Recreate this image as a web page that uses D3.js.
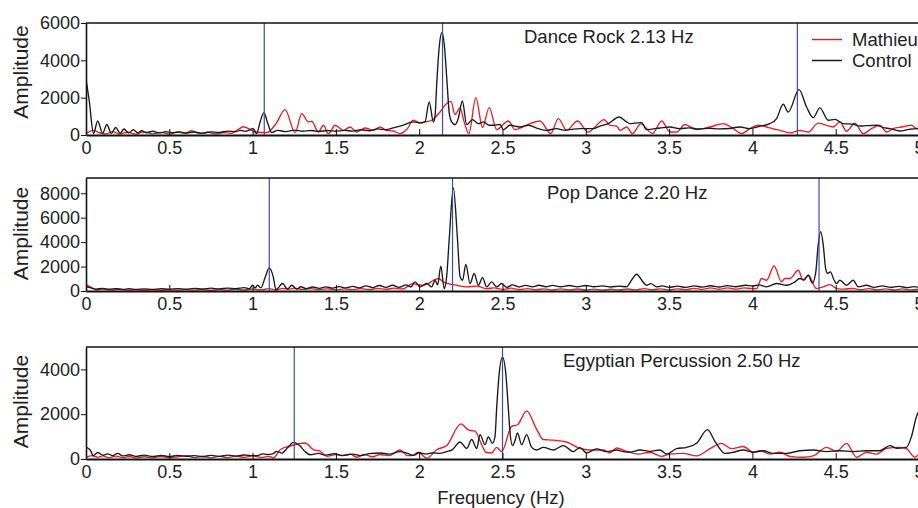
<!DOCTYPE html>
<html>
<head>
<meta charset="utf-8">
<script src="https://cdn.jsdelivr.net/npm/d3@7"></script>
<style>
  html, body { margin: 0; padding: 0; background: #fff; }
  svg { display: block; font-family: "Liberation Sans", Arial, Helvetica, sans-serif; }
  text { fill: #222; }
</style>
</head>
<body>
<svg id="chart" width="918" height="508"></svg>
<script>
// ---------------- DATA ----------------
const xTicks = [0, 0.5, 1, 1.5, 2, 2.5, 3, 3.5, 4, 4.5, 5];
const xTickLabels = ["0", "0.5", "1", "1.5", "2", "2.5", "3", "3.5", "4", "4.5", "5"];
const seriesNames = ["Mathieu", "Control"];
const panelTitles = ["Dance Rock 2.13 Hz", "Pop Dance 2.20 Hz", "Egyptian Percussion 2.50 Hz"];
const yMax = [6000, 9250, 5000];
const yTicks1 = [0, 2000, 4000, 6000];
const yTicks2 = [0, 2000, 4000, 6000, 8000];
const yTicks3 = [0, 2000, 4000];
const markers1 = [1.07, 2.14, 4.27];
const markers2 = [1.10, 2.20, 4.40];
const markers3 = [1.25, 2.50, 5.00];

// Dance Rock – Control
const danceCtrl = [[0,3000],[0.02,1800],[0.045,80],[0.07,750],[0.1,100],[0.125,560],[0.152,90],[0.178,400],[0.205,100],[0.228,320],[0.255,110],[0.284,280],[0.31,120],[0.335,230],[0.36,120],[0.40,200],[0.44,110],[0.48,180],[0.52,120],[0.56,170],[0.60,110],[0.65,160],[0.70,100],[0.75,170],[0.80,140],[0.85,210],[0.90,180],[0.924,250],[0.96,200],[1.004,340],[1.024,75],[1.045,700],[1.068,1200],[1.09,650],[1.115,130],[1.15,250],[1.2,180],[1.25,260],[1.3,200],[1.35,240],[1.4,190],[1.45,240],[1.5,200],[1.55,250],[1.6,210],[1.65,280],[1.7,230],[1.75,330],[1.8,280],[1.85,400],[1.9,520],[1.965,700],[2.005,650],[2.035,720],[2.06,1770],[2.085,700],[2.095,1000],[2.105,2700],[2.12,4700],[2.137,5490],[2.152,4700],[2.168,2700],[2.18,1200],[2.195,700],[2.215,550],[2.235,900],[2.259,1820],[2.285,560],[2.32,825],[2.355,610],[2.385,700],[2.42,520],[2.445,520],[2.485,560],[2.505,290],[2.545,520],[2.605,430],[2.655,520],[2.715,340],[2.765,250],[2.825,340],[2.865,260],[2.905,290],[2.965,340],[3.045,340],[3.085,480],[3.135,610],[3.2,965],[3.245,700],[3.265,610],[3.295,640],[3.335,660],[3.365,290],[3.445,375],[3.505,430],[3.565,340],[3.62,380],[3.68,320],[3.74,360],[3.8,330],[3.86,350],[3.925,430],[3.985,340],[4.045,465],[4.105,610],[4.145,880],[4.185,1645],[4.215,1230],[4.28,2430],[4.325,1500],[4.365,930],[4.405,1450],[4.455,790],[4.495,840],[4.545,610],[4.605,575],[4.645,480],[4.685,500],[4.745,520],[4.785,400],[4.826,340],[4.886,215],[4.94,300],[4.985,340],[5.0,320]];
// Dance Rock – Mathieu
const danceMath = [[0,75],[0.044,250],[0.08,120],[0.12,60],[0.16,180],[0.2,60],[0.25,150],[0.3,50],[0.35,170],[0.4,60],[0.45,140],[0.5,50],[0.55,160],[0.6,80],[0.63,230],[0.68,80],[0.73,150],[0.78,60],[0.83,130],[0.87,90],[0.91,280],[0.945,440],[0.985,300],[1.014,160],[1.085,130],[1.14,600],[1.195,1360],[1.255,130],[1.295,1145],[1.335,700],[1.355,735],[1.395,160],[1.425,520],[1.455,75],[1.495,520],[1.545,250],[1.585,430],[1.625,160],[1.675,375],[1.725,250],[1.765,430],[1.805,250],[1.845,215],[1.885,75],[1.925,290],[1.965,790],[2.005,640],[2.035,700],[2.075,790],[2.125,1230],[2.16,1650],[2.19,1800],[2.215,1100],[2.245,1450],[2.27,700],[2.298,75],[2.34,2000],[2.38,400],[2.42,1470],[2.465,290],[2.535,750],[2.575,290],[2.655,575],[2.725,750],[2.79,75],[2.835,880],[2.885,250],[2.95,750],[3.015,160],[3.045,340],[3.11,825],[3.145,520],[3.185,480],[3.205,250],[3.245,430],[3.28,75],[3.33,600],[3.40,75],[3.455,750],[3.505,160],[3.545,160],[3.595,560],[3.665,290],[3.745,430],[3.825,610],[3.885,340],[3.935,75],[3.985,340],[4.035,520],[4.085,430],[4.125,330],[4.165,250],[4.225,115],[4.285,250],[4.335,160],[4.395,640],[4.445,520],[4.485,430],[4.525,700],[4.565,200],[4.615,640],[4.665,75],[4.715,340],[4.765,520],[4.805,160],[4.845,340],[4.895,430],[4.955,520],[4.985,340],[5.0,380]];

// Pop Dance – Control
const popCtrl = [[0,350],[0.03,250],[0.06,150],[0.1,220],[0.14,140],[0.18,200],[0.22,130],[0.26,190],[0.3,120],[0.35,180],[0.4,130],[0.45,190],[0.5,140],[0.55,200],[0.6,150],[0.65,210],[0.7,160],[0.75,230],[0.8,170],[0.85,240],[0.9,200],[0.95,280],[0.98,180],[1.0,470],[1.015,260],[1.03,470],[1.05,250],[1.075,1100],[1.10,1890],[1.125,1100],[1.14,100],[1.18,610],[1.21,150],[1.235,470],[1.265,150],[1.29,350],[1.32,200],[1.36,330],[1.4,220],[1.44,340],[1.48,230],[1.52,360],[1.56,250],[1.6,380],[1.64,260],[1.68,420],[1.72,280],[1.76,450],[1.8,300],[1.84,470],[1.88,300],[1.92,500],[1.95,330],[1.975,750],[2.005,340],[2.045,610],[2.075,340],[2.095,880],[2.11,500],[2.13,2030],[2.15,200],[2.165,1200],[2.18,4200],[2.205,8430],[2.23,4200],[2.245,1200],[2.26,880],[2.28,2170],[2.305,610],[2.33,1430],[2.355,470],[2.38,1100],[2.405,340],[2.435,750],[2.465,340],[2.495,610],[2.525,300],[2.56,500],[2.6,330],[2.64,460],[2.68,340],[2.72,470],[2.76,350],[2.8,460],[2.85,350],[2.9,450],[2.95,340],[3.0,450],[3.05,350],[3.1,420],[3.15,330],[3.2,400],[3.245,340],[3.275,900],[3.305,1370],[3.34,800],[3.365,470],[3.39,600],[3.425,340],[3.46,420],[3.5,300],[3.55,400],[3.6,300],[3.65,420],[3.7,320],[3.75,430],[3.8,330],[3.85,440],[3.9,350],[3.96,470],[4.0,400],[4.04,500],[4.085,340],[4.145,610],[4.205,470],[4.25,700],[4.285,1020],[4.31,900],[4.335,1290],[4.36,650],[4.38,1500],[4.395,3800],[4.41,4860],[4.425,3800],[4.44,1800],[4.452,1450],[4.468,1560],[4.49,900],[4.505,610],[4.525,880],[4.565,470],[4.605,880],[4.635,340],[4.685,470],[4.73,300],[4.78,420],[4.83,300],[4.88,380],[4.93,280],[4.97,360],[5.0,300]];
// Pop Dance – Mathieu
const popMath = [[0,525],[0.03,300],[0.06,100],[0.1,150],[0.15,80],[0.2,130],[0.25,60],[0.3,110],[0.35,60],[0.4,100],[0.45,60],[0.5,110],[0.55,70],[0.6,120],[0.65,70],[0.7,110],[0.75,60],[0.8,110],[0.85,70],[0.9,130],[0.95,80],[1.0,160],[1.05,90],[1.1,200],[1.14,80],[1.18,220],[1.22,150],[1.25,240],[1.3,130],[1.35,200],[1.4,120],[1.45,180],[1.5,100],[1.55,170],[1.6,110],[1.65,190],[1.7,120],[1.75,210],[1.8,140],[1.85,230],[1.9,160],[1.96,600],[2.015,470],[2.055,610],[2.085,880],[2.115,1020],[2.145,750],[2.175,610],[2.225,470],[2.285,340],[2.345,400],[2.405,200],[2.45,250],[2.5,130],[2.55,230],[2.6,120],[2.65,200],[2.7,100],[2.75,180],[2.8,90],[2.85,170],[2.9,90],[2.95,160],[3.0,80],[3.05,150],[3.1,70],[3.15,140],[3.2,80],[3.25,160],[3.3,90],[3.35,200],[3.4,100],[3.45,180],[3.5,90],[3.55,170],[3.6,110],[3.65,220],[3.7,130],[3.75,250],[3.8,140],[3.85,260],[3.9,150],[3.95,250],[4.0,200],[4.025,200],[4.055,1020],[4.085,880],[4.13,2060],[4.175,750],[4.195,1020],[4.225,1020],[4.275,1700],[4.305,880],[4.335,1290],[4.385,200],[4.425,340],[4.465,525],[4.505,200],[4.55,150],[4.6,220],[4.65,100],[4.7,200],[4.75,90],[4.8,170],[4.85,90],[4.9,180],[4.95,90],[5.0,150]];

// Egyptian Percussion – Control
const egyCtrl = [[0,535],[0.025,400],[0.045,150],[0.07,290],[0.1,170],[0.13,230],[0.16,150],[0.19,250],[0.22,140],[0.26,190],[0.3,120],[0.35,170],[0.4,110],[0.45,160],[0.5,110],[0.55,160],[0.6,120],[0.65,150],[0.7,110],[0.75,160],[0.8,120],[0.85,170],[0.9,130],[0.95,180],[1.0,150],[1.03,150],[1.06,230],[1.085,200],[1.12,230],[1.145,340],[1.175,260],[1.21,500],[1.245,745],[1.285,580],[1.315,330],[1.345,190],[1.395,250],[1.44,170],[1.49,240],[1.54,160],[1.6,220],[1.65,150],[1.7,240],[1.765,270],[1.82,220],[1.885,330],[1.93,250],[1.965,160],[2.0,280],[2.04,230],[2.085,280],[2.12,250],[2.165,330],[2.2,420],[2.245,760],[2.285,470],[2.315,870],[2.345,470],[2.365,1090],[2.395,640],[2.415,980],[2.44,700],[2.455,1000],[2.465,2270],[2.48,3800],[2.5,4545],[2.52,3800],[2.535,2270],[2.545,1200],[2.56,600],[2.575,820],[2.59,1160],[2.615,640],[2.645,1090],[2.675,520],[2.705,400],[2.745,520],[2.805,400],[2.865,600],[2.925,330],[2.965,510],[3.005,270],[3.065,450],[3.125,330],[3.185,400],[3.225,330],[3.265,300],[3.325,400],[3.385,340],[3.445,400],[3.485,220],[3.545,460],[3.605,520],[3.665,700],[3.73,1310],[3.775,790],[3.835,250],[3.885,300],[3.945,400],[4.005,300],[4.065,370],[4.125,250],[4.205,250],[4.285,370],[4.365,400],[4.445,330],[4.525,370],[4.605,330],[4.685,370],[4.765,370],[4.825,600],[4.865,480],[4.925,520],[4.955,1010],[4.985,1900],[5.0,2150]];
// Egyptian Percussion – Mathieu
const egyMath = [[0,70],[0.035,150],[0.07,80],[0.1,140],[0.14,60],[0.18,130],[0.22,60],[0.26,110],[0.3,50],[0.35,100],[0.4,50],[0.45,110],[0.5,60],[0.55,100],[0.6,150],[0.65,60],[0.7,110],[0.75,50],[0.8,120],[0.85,60],[0.9,130],[0.95,70],[1.0,140],[1.05,70],[1.1,120],[1.125,50],[1.165,415],[1.225,580],[1.315,715],[1.365,415],[1.405,350],[1.445,120],[1.5,200],[1.545,150],[1.585,220],[1.625,80],[1.67,200],[1.72,100],[1.765,200],[1.82,150],[1.885,400],[1.93,150],[1.955,150],[1.995,300],[2.045,40],[2.105,415],[2.165,600],[2.25,1565],[2.295,1300],[2.335,1240],[2.375,640],[2.4,300],[2.435,270],[2.465,520],[2.495,330],[2.555,1460],[2.59,1530],[2.645,2150],[2.705,1320],[2.745,870],[2.805,840],[2.885,760],[2.965,470],[3.045,400],[3.105,400],[3.145,280],[3.185,490],[3.245,340],[3.315,220],[3.385,300],[3.455,120],[3.505,220],[3.585,250],[3.665,140],[3.745,460],[3.815,700],[3.875,460],[3.945,560],[4.005,300],[4.045,370],[4.105,220],[4.165,300],[4.225,120],[4.305,80],[4.365,140],[4.445,520],[4.505,340],[4.565,700],[4.625,80],[4.685,300],[4.745,220],[4.805,480],[4.885,520],[4.925,460],[4.975,80],[5.0,220]];

// ---------------- LAYOUT ----------------
const svg = d3.select("#chart");
const left = 86, right = 919;
const x = d3.scaleLinear().domain([0, 5]).range([left, right]);
const colors = { math: "#ee1c24", ctrl: "#1a1a1a", marker: "#3a4fa2" };
const fontTick = 18, fontTitle = 18.5, fontYLab = 21;

const panels = [
  { top: 23, bottom: 135, ymax: yMax[0], yticks: yTicks1, title: panelTitles[0], tx: 524, ty: 43, ylabY: 72, markers: markers1, ctrl: danceCtrl, math: danceMath },
  { top: 178, bottom: 291, ymax: yMax[1], yticks: yTicks2, title: panelTitles[1], tx: 547, ty: 199, ylabY: 233.5, markers: markers2, ctrl: popCtrl, math: popMath },
  { top: 347, bottom: 459, ymax: yMax[2], yticks: yTicks3, title: panelTitles[2], tx: 563, ty: 367, ylabY: 401.5, markers: markers3, ctrl: egyCtrl, math: egyMath }
];

panels.forEach((p, i) => {
  const y = d3.scaleLinear().domain([0, p.ymax]).range([p.bottom, p.top]);
  const g = svg.append("g");
  const clipId = "clip" + i;
  svg.append("clipPath").attr("id", clipId).append("rect")
    .attr("x", left).attr("y", p.top).attr("width", right - left).attr("height", p.bottom - p.top);

  const line = d3.line().x(d => x(d[0])).y(d => y(Math.max(0, d[1]))).curve(d3.curveMonotoneX);
  const plot = g.append("g").attr("clip-path", `url(#${clipId})`);

  plot.append("path").datum(p.math).attr("d", line)
    .attr("fill", "none").attr("stroke", colors.math).attr("stroke-width", 1.35).attr("stroke-linejoin", "round");
  plot.append("path").datum(p.ctrl).attr("d", line)
    .attr("fill", "none").attr("stroke", colors.ctrl).attr("stroke-width", 1.35).attr("stroke-linejoin", "round");

  plot.selectAll("line.marker").data(p.markers).enter().append("line")
    .attr("class", "marker")
    .attr("x1", d => x(d)).attr("x2", d => x(d))
    .attr("y1", p.top).attr("y2", p.bottom)
    .attr("stroke", colors.marker).attr("stroke-width", 1.2);

  // top & right border
  g.append("line").attr("x1", left).attr("x2", right).attr("y1", p.top).attr("y2", p.top)
    .attr("stroke", "#111").attr("stroke-width", 1.5);
  g.append("line").attr("x1", right).attr("x2", right).attr("y1", p.top).attr("y2", p.bottom)
    .attr("stroke", "#111").attr("stroke-width", 1.5);

  // bottom axis
  const xAxis = d3.axisBottom(x).tickValues(xTicks)
    .tickFormat((d, k) => xTickLabels[k]).tickSizeInner(-6).tickSizeOuter(0).tickPadding(6);
  const gx = g.append("g").attr("transform", `translate(0,${p.bottom})`).call(xAxis);
  gx.select(".domain").attr("stroke", "#111").attr("stroke-width", 2);
  gx.selectAll(".tick line").attr("stroke", "#111").attr("stroke-width", 1);
  gx.selectAll(".tick text").attr("font-size", fontTick).attr("font-family", null).attr("fill", "#222");

  // left axis
  const yAxis = d3.axisLeft(y).tickValues(p.yticks).tickFormat(d3.format("d"))
    .tickSizeInner(5).tickSizeOuter(0).tickPadding(1);
  const gy = g.append("g").attr("transform", `translate(${left},0)`).call(yAxis);
  gy.select(".domain").attr("stroke", "#111").attr("stroke-width", 1.6);
  gy.selectAll(".tick line").attr("stroke", "#111").attr("stroke-width", 1);
  gy.selectAll(".tick text").attr("font-size", fontTick).attr("font-family", null).attr("fill", "#222");

  // y label
  g.append("text").attr("transform", `translate(28,${p.ylabY}) rotate(-90)`)
    .attr("text-anchor", "middle").attr("font-size", fontYLab).text("Amplitude");

  // panel title
  g.append("text").attr("x", p.tx).attr("y", p.ty).attr("font-size", fontTitle).text(p.title);
});

// legend (panel 1)
const legend = svg.append("g");
const legItems = [
  { name: seriesNames[0], color: colors.math, y: 39.5 },
  { name: seriesNames[1], color: colors.ctrl, y: 60.5 }
];
legItems.forEach(it => {
  legend.append("line").attr("x1", 812).attr("x2", 842).attr("y1", it.y).attr("y2", it.y)
    .attr("stroke", it.color).attr("stroke-width", 1.5);
  legend.append("text").attr("x", 852).attr("y", it.y + 6.5).attr("font-size", fontTitle).text(it.name);
});

// x label
svg.append("text").attr("x", 501).attr("y", 504).attr("text-anchor", "middle")
  .attr("font-size", fontTitle).text("Frequency (Hz)");
</script>
</body>
</html>
